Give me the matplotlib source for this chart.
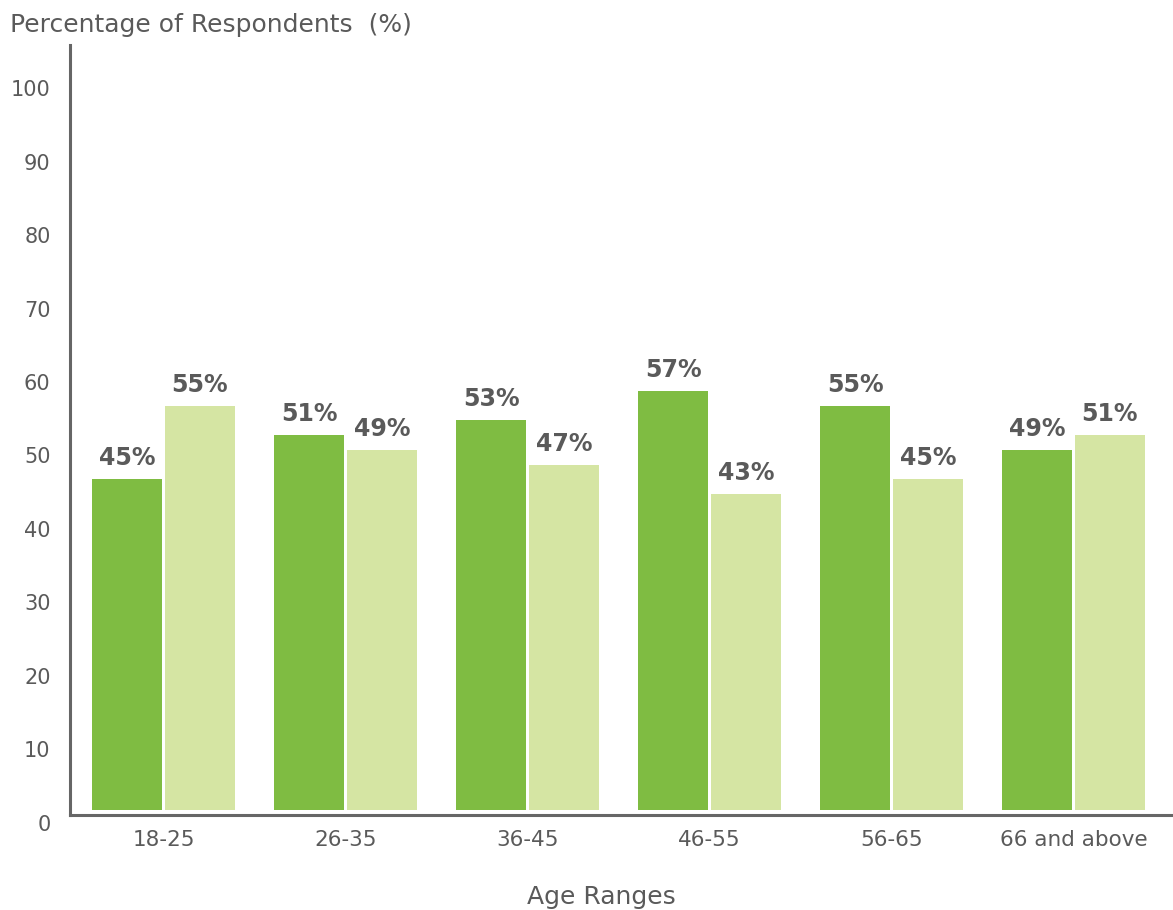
import matplotlib.pyplot as plt
import matplotlib.transforms as mtransforms
import numpy as np

# data
age_ranges = ["18-25", "26-35", "36-45", "46-55", "56-65", "66 and above"]
series_a = [45, 51, 53, 57, 55, 49]
series_b = [55, 49, 47, 43, 45, 51]
y_ticks = [0, 10, 20, 30, 40, 50, 60, 70, 80, 90, 100]

dark_green = "#7fbc42"
light_green = "#d5e5a3"
text_gray = "#5a5a5a"

plt.rcParams['font.family'] = ['DejaVu Sans']

fig = plt.figure(figsize=(11.73, 9.10), dpi=100)
ax = fig.add_axes([70 / 1173, 95 / 910, 1 - 70 / 1173, 770 / 910])

x = np.arange(len(age_ranges))
w = 0.385
bars_a = ax.bar(x - 0.2, series_a, width=w, color=dark_green)
bars_b = ax.bar(x + 0.2, series_b, width=w, color=light_green)

# value labels above the bars
for bars, vals in [(bars_a, series_a), (bars_b, series_b)]:
    for b, v in zip(bars, vals):
        ax.annotate(f"{v}%", (b.get_x() + b.get_width() / 2, v),
                    xytext=(0, 6.5), textcoords="offset points",
                    ha="center", va="bottom", fontsize=17, fontweight="bold",
                    color=text_gray)

ax.set_xlim(-0.514, 5.547)
ax.set_ylim(-0.7, 104.1)

ax.set_xticks(x)
ax.set_xticklabels(age_ranges, fontsize=15.5, color=text_gray)
ax.set_yticks(y_ticks)
ax.set_yticklabels([str(t) for t in y_ticks], fontsize=15, color=text_gray)
ax.tick_params(axis="both", length=0)
ax.tick_params(axis="y", pad=14)
ax.tick_params(axis="x", pad=11)

# y labels sit a bit below their gridline in the original
offset = mtransforms.ScaledTranslation(0, -0.13, fig.dpi_scale_trans)
for lab in ax.get_yticklabels():
    lab.set_transform(lab.get_transform() + offset)

for side in ["top", "right"]:
    ax.spines[side].set_visible(False)
for side in ["left", "bottom"]:
    ax.spines[side].set_color("#666666")
    ax.spines[side].set_linewidth(2.2)

fig.text(10 / 1173, 1 - 25 / 910, "Percentage of Respondents  (%)",
         fontsize=18, color=text_gray, ha="left", va="center")
fig.text(601 / 1173, 1 - 897 / 910, "Age Ranges",
         fontsize=18, color=text_gray, ha="center", va="center")

fig.savefig("out.png", dpi=100)
